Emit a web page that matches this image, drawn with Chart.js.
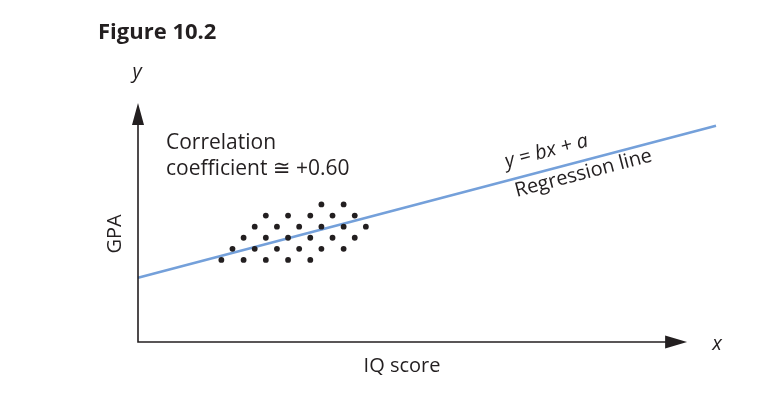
<!DOCTYPE html>
<html>
<head>
<meta charset="utf-8">
<script src="https://cdn.jsdelivr.net/npm/chart.js@4"></script>
<style>
  body { margin: 0; background: #fff; }
  #wrap { width: 757px; height: 399px; position: relative; }
</style>
</head>
<body>
<div id="wrap"><canvas id="chart"></canvas></div>
<script>
// scatter of students: IQ score (x) vs GPA (y), arbitrary units
const dotX = [16, 18,
              11, 13, 15, 17, 19,
              10, 12, 14, 16, 18, 20,
              9, 11, 13, 15, 17, 19,
              8, 10, 12, 14, 16, 18,
              7, 9, 11, 13, 15];
const dotY = [12, 12,
              11, 11, 11, 11, 11,
              10, 10, 10, 10, 10, 10,
              9, 9, 9, 9, 9, 9,
              8, 8, 8, 8, 8, 8,
              7, 7, 7, 7, 7];

// regression line y = bx + a, two end points
const lineX = [-0.5, 51.5];
const lineY = [5.4, 19.1];

const xMin = -0.5, xMax = 51.5, yMin = -0.4, yMax = 21.6;
const xArrowEnd = 48.9, yArrowEnd = 21.15;

const font = '"Open Sans", "DejaVu Sans", sans-serif';
const ink = '#231f20';

const axesPlugin = {
  id: 'axes',
  afterDatasetsDraw(chart) {
    const c = chart.ctx;
    const xs = chart.scales.x, ys = chart.scales.y;
    const x0 = xs.getPixelForValue(xMin), y0 = ys.getPixelForValue(yMin);
    const xe = xs.getPixelForValue(xArrowEnd), ye = ys.getPixelForValue(yArrowEnd);
    c.save();
    c.strokeStyle = ink;
    c.fillStyle = ink;
    c.lineWidth = 1.6;
    c.beginPath();
    c.moveTo(x0, ye + 15);
    c.lineTo(x0, y0);
    c.lineTo(xe - 15, y0);
    c.stroke();
    // arrow heads
    c.beginPath();
    c.moveTo(x0, ye);
    c.lineTo(x0 - 6, ye + 22);
    c.lineTo(x0 + 6, ye + 22);
    c.closePath();
    c.fill();
    c.beginPath();
    c.moveTo(xe, y0);
    c.lineTo(xe - 22, y0 - 6.5);
    c.lineTo(xe - 22, y0 + 6.5);
    c.closePath();
    c.fill();

    // texts
    c.fillStyle = ink;
    c.textBaseline = 'alphabetic';
    c.font = 'bold 22px ' + font;
    c.textAlign = 'left';
    c.fillText('Figure 10.2', 98, 39);

    c.font = 'italic 20px ' + font;
    c.textAlign = 'center';
    c.fillText('y', 137, 78);
    c.fillText('x', 717, 350);

    c.font = '21px ' + font;
    c.textAlign = 'left';
    c.fillText('Correlation', 166, 149);
    c.fillText('coefficient \u2245 +0.60', 166, 175);

    c.font = '20px ' + font;
    c.textAlign = 'center';
    c.fillText('IQ score', 402, 372);

    c.save();
    c.translate(121, 234);
    c.rotate(-Math.PI / 2);
    c.fillText('GPA', 0, 0);
    c.restore();

    const ang = Math.atan2(ys.getPixelForValue(lineY[1]) - ys.getPixelForValue(lineY[0]),
                           xs.getPixelForValue(lineX[1]) - xs.getPixelForValue(lineX[0]));
    c.save();
    c.translate(548, 157);
    c.rotate(ang);
    c.font = 'italic 20px ' + font;
    c.fillText('y = bx + a', 0, 0);
    c.restore();
    c.save();
    c.translate(585, 179);
    c.rotate(ang);
    c.font = '20px ' + font;
    c.fillText('Regression line', 0, 0);
    c.restore();
    c.restore();
  }
};

new Chart(document.getElementById('chart'), {
  type: 'scatter',
  data: {
    datasets: [
      {
        data: dotX.map((x, i) => ({ x: x, y: dotY[i] })),
        pointRadius: 2.9,
        pointBackgroundColor: ink,
        pointBorderWidth: 0
      },
      {
        type: 'line',
        data: lineX.map((x, i) => ({ x: x, y: lineY[i] })),
        borderColor: '#74a0da',
        borderWidth: 2.6,
        pointRadius: 0,
        clip: false
      }
    ]
  },
  plugins: [axesPlugin],
  options: {
    responsive: true,
    maintainAspectRatio: false,
    animation: false,
    layout: { padding: { left: 138, right: 41, top: 98, bottom: 57 } },
    plugins: { legend: { display: false }, tooltip: { enabled: false } },
    scales: {
      x: { type: 'linear', min: xMin, max: xMax, display: false },
      y: { type: 'linear', min: yMin, max: yMax, display: false }
    }
  }
});
</script>
</body>
</html>
